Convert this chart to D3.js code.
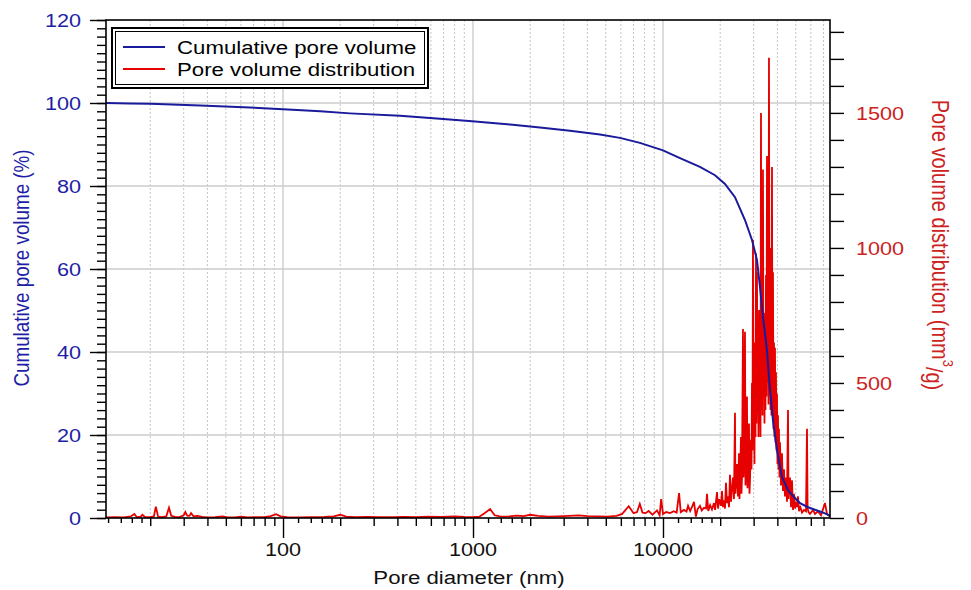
<!DOCTYPE html>
<html><head><meta charset="utf-8">
<script src="https://cdn.jsdelivr.net/npm/d3@7"></script>
<style>body{margin:0;background:#fff}svg{display:block}</style>
</head><body>
<svg id="chart" width="971" height="590"></svg>
<script>
// ---- data ----
const cumulativeData = [
  [11.7,100],[15.6,99.9],[20,99.8],[36.6,99.4],[67,98.9],[100,98.5],[157,98.0],[225,97.5],
  [413,96.9],[670,96.2],[990,95.6],[1570,94.8],[2250,94.1],[3240,93.3],[4660,92.4],[5930,91.6],
  [7560,90.4],[10000,88.6],[12290,86.7],[15650,84.6],[18780,82.6],[21200,80.5],[23930,77.3],
  [27010,71.8],[29410,67.0],[31230,62.2],[32400,55.7],[33600,48.4],[35250,40.5],[36580,30.8],
  [37930,23.6],[39800,16.4],[42300,9.9],[45500,6.7],[49520,4.8],[52620,3.6],[57980,2.6],
  [63100,2.0],[68690,1.4],[75690,0.6]
];
const distributionData = [
  [11.7,2],[13.0,3],[14.5,2],[15.8,6],[16.5,15],[17.0,3],[17.8,5],[18.2,12],[18.8,3],[20.0,3],
  [20.9,6],[21.4,42],[22.0,5],[23.0,3],[24.3,6],[25.1,38],[25.8,8],[27.0,4],[28.5,3],[30.0,10],
  [30.6,22],[31.3,9],[32.2,8],[32.8,18],[33.8,6],[35.5,8],[37.5,4],[40,2],[44,3],[48,6],[51,2],
  [56,2],[60,5],[65,2],[72,3],[80,3],[86,7],[92,14],[97,6],[105,3],[120,2],[140,3],[165,4],
  [185,6],[200,12],[215,5],[240,3],[280,4],[320,3],[380,3],[430,4],[500,3],[580,5],[680,4],
  [800,6],[900,4],[1000,3],[1080,5],[1150,18],[1230,33],[1300,10],[1400,5],[1550,6],[1700,9],
  [1850,7],[2000,12],[2200,8],[2500,5],[2800,6],[3200,8],[3600,10],[4000,7],[4500,6],[5100,5],
  [5700,8],[6100,15],[6600,44],[7000,18],[7300,22],[7550,52],[7800,20],[8100,18],[8400,26],
  [8800,12],[9300,28],[9600,10],[9780,70],[10000,15],[10400,22],[10900,18],[11400,25],[11800,20],
  [12150,92],[12400,22],[12900,30],[13300,24],[13550,45],[13900,26],[14200,40],[14560,60],
  [14900,5],[15200,32],[15650,45],[16000,28],[16440,38],[16840,35],[17050,90],[17300,26],
  [17700,48],[18100,32],[18550,55],[18800,30],[19250,96],[19480,35],[19800,70],[20196,45],
  [20442,100],[20691,40],[20943,65],[21199,35],[21457,130],[21719,55],[21984,80],[22252,40],
  [22523,160],[22798,60],[23076,110],[23357,150],[23642,70],[23930,390],[24070,90],[24222,120],
  [24517,200],[24816,80],[25119,240],[25270,70],[25425,130],[25735,300],[25890,90],[26049,150],
  [26367,700],[26520,150],[26688,200],[27014,690],[27180,120],[27343,180],[27677,450],[27840,110],
  [28014,170],[28356,350],[28530,90],[28702,140],[29052,290],[29230,180],[29406,500],[29580,250],
  [29765,1030],[29950,300],[30128,420],[30310,200],[30495,650],[30680,300],[30867,980],[31050,350],
  [31243,910],[31430,400],[31624,600],[31820,300],[32010,770],[32200,350],[32400,550],[32600,300],
  [32795,1500],[32995,400],[33195,880],[33400,380],[33600,1290],[33800,450],[34010,760],[34220,350],
  [34424,700],[34630,400],[34844,900],[35050,450],[35269,1340],[35480,500],[35699,920],[35920,420],
  [36134,1704],[36350,500],[36575,1000],[36800,400],[37021,800],[37240,380],[37472,1300],[37700,400],
  [37929,910],[38150,330],[38392,650],[38620,300],[38860,630],[39100,280],[39334,540],[39570,250],
  [39813,460],[40050,200],[40299,380],[40540,180],[40790,330],[41040,150],[41288,280],[41800,120],
  [42300,240],[42800,100],[43340,180],[43860,80],[44400,150],[44950,60],[45500,400],[45800,70],
  [46050,120],[46610,150],[47180,40],[47760,140],[48340,30],[48930,90],[49530,35],[50120,60],
  [50740,40],[51350,80],[52000,25],[52620,45],[53910,20],[55230,30],[56590,25],[57280,330],
  [57700,35],[58500,20],[59400,15],[61620,30],[63100,15],[65400,25],[67880,10],[71240,55],
  [73000,15],[75690,5]
];
const xMajorTicks = [100, 1000, 10000];
const xDecades = [10, 100, 1000, 10000];
const xMidMultipliers = [2, 3, 4, 5, 6, 7, 8, 9];
const xSmallMultipliers = [1.2, 1.4, 1.6, 1.8];
const leftTicks = [0, 20, 40, 60, 80, 100, 120];
const rightTicks = [0, 500, 1000, 1500];
const legendLabels = ["Cumulative pore volume", "Pore volume distribution"];

// ---- setup ----
const BLUE_TXT = "#1e1ea6", RED_TXT = "#cc2222";
const BLUE_LINE = "#1a1a9c", RED_LINE = "#e60000";
const FONT = "'Liberation Sans', Arial, sans-serif";
const SX = 1.17;
const P = {l: 106, r: 830, t: 20, b: 518};
const svg = d3.select("#chart").attr("font-family", FONT);
svg.append("rect").attr("width", 971).attr("height", 590).attr("fill", "#fff");

const x = d3.scaleLog().domain([11.7, 75700]).range([P.l, P.r]);
const yL = d3.scaleLinear().domain([0, 120]).range([P.b, P.t]);
const yR = d3.scaleLinear().domain([0, 1844]).range([P.b, P.t]);
const inX = v => v >= x.domain()[0] && v <= x.domain()[1];
const midTicks = xDecades.flatMap(d => xMidMultipliers.map(m => d * m)).filter(inX);
const smallTicks = xDecades.flatMap(d => xSmallMultipliers.map(m => d * m)).filter(inX);

// ---- grid ----
const grid = svg.append("g");
grid.selectAll(".gm").data(midTicks).join("line")
  .attr("x1", d => x(d)).attr("x2", d => x(d)).attr("y1", P.t).attr("y2", P.b)
  .attr("stroke", "#c4c4c4").attr("stroke-width", 1).attr("stroke-dasharray", "2,2");
grid.selectAll(".gM").data(xMajorTicks).join("line")
  .attr("x1", d => x(d)).attr("x2", d => x(d)).attr("y1", P.t).attr("y2", P.b)
  .attr("stroke", "#c8c8c8").attr("stroke-width", 1.3);
grid.selectAll(".gh").data(leftTicks.filter(v => v > 0 && v < 120)).join("line")
  .attr("x1", P.l).attr("x2", P.r).attr("y1", d => yL(d)).attr("y2", d => yL(d))
  .attr("stroke", "#cdcdcd").attr("stroke-width", 1.3);

// ---- lines ----
svg.append("clipPath").attr("id", "clip").append("rect")
  .attr("x", P.l).attr("y", P.t - 2).attr("width", P.r - P.l).attr("height", P.b - P.t + 2);
const plot = svg.append("g").attr("clip-path", "url(#clip)");
plot.append("path").datum(distributionData)
  .attr("d", d3.line().x(d => x(d[0])).y(d => yR(d[1])))
  .attr("fill", "none").attr("stroke", RED_LINE).attr("stroke-width", 1.8).attr("stroke-linejoin", "miter");
plot.append("path").datum(cumulativeData)
  .attr("d", d3.line().x(d => x(d[0])).y(d => yL(d[1])))
  .attr("fill", "none").attr("stroke", BLUE_LINE).attr("stroke-width", 2);

// ---- axes ----
function tickAxis(axis, tr) {
  const g = svg.append("g").attr("transform", tr).call(axis);
  g.select(".domain").remove();
  g.selectAll("line").attr("stroke", "#000").attr("stroke-width", 1.4);
  return g;
}
tickAxis(d3.axisBottom(x).tickValues(xMajorTicks).tickSize(20).tickFormat(""), `translate(0,${P.b})`);
tickAxis(d3.axisBottom(x).tickValues(midTicks).tickSize(8).tickFormat(""), `translate(0,${P.b})`);
tickAxis(d3.axisBottom(x).tickValues(smallTicks).tickSize(5).tickFormat(""), `translate(0,${P.b})`);
tickAxis(d3.axisLeft(yL).tickValues(leftTicks).tickSize(16).tickFormat(""), `translate(${P.l},0)`);
tickAxis(d3.axisLeft(yL).tickValues(d3.range(0, 121, 2)).tickSize(9).tickFormat(""), `translate(${P.l},0)`);
tickAxis(d3.axisRight(yR).tickValues(d3.range(0, 1801, 100)).tickSize(14).tickFormat(""), `translate(${P.r},0)`);

svg.append("rect").attr("x", P.l).attr("y", P.t).attr("width", P.r - P.l).attr("height", P.b - P.t)
  .attr("fill", "none").attr("stroke", "#000").attr("stroke-width", 1.6);

// ---- text ----
function stext(px, py, str, size, color, anchor) {
  return svg.append("text").attr("transform", `translate(${px},${py}) scale(${SX},1)`)
    .attr("text-anchor", anchor).attr("font-size", size).attr("fill", color).text(str);
}
leftTicks.forEach(v => stext(81, yL(v), v, 18.5, BLUE_TXT, "end").attr("dy", "0.36em"));
rightTicks.forEach(v => stext(856, yR(v), v, 18.5, RED_TXT, "start").attr("dy", "0.36em"));
xMajorTicks.forEach(v => stext(x(v), 556, v, 18.5, "#111", "middle"));
stext(469, 584, "Pore diameter (nm)", 19, "#111", "middle");

svg.append("text").attr("transform", `translate(21,268) rotate(-90) scale(1,${SX})`)
  .attr("text-anchor", "middle").attr("dy", "0.35em").attr("font-size", 18.8).attr("fill", BLUE_TXT)
  .text("Cumulative pore volume (%)");
const rt = svg.append("text").attr("transform", `translate(940,245) rotate(90) scale(1,${SX})`)
  .attr("text-anchor", "middle").attr("dy", "0.35em").attr("font-size", 20).attr("fill", RED_TXT);
rt.append("tspan").text("Pore volume distribution (mm");
rt.append("tspan").attr("dy", "-0.75em").attr("font-size", 13).text("3");
rt.append("tspan").attr("dy", "0.75em").text("/g)");

// ---- legend ----
const lg = svg.append("g");
lg.append("rect").attr("x", 112).attr("y", 28).attr("width", 316).attr("height", 60)
  .attr("fill", "#fff").attr("stroke", "#000").attr("stroke-width", 2);
lg.append("rect").attr("x", 115.5).attr("y", 31.5).attr("width", 309).attr("height", 53)
  .attr("fill", "none").attr("stroke", "#000").attr("stroke-width", 1);
[BLUE_LINE, RED_LINE].forEach((c, i) => {
  const yy = 47 + i * 22;
  lg.append("line").attr("x1", 123).attr("x2", 165).attr("y1", yy).attr("y2", yy)
    .attr("stroke", c).attr("stroke-width", 1.8);
  stext(177, yy, legendLabels[i], 19, "#000", "start").attr("dy", "0.35em");
});
</script>
</body></html>
